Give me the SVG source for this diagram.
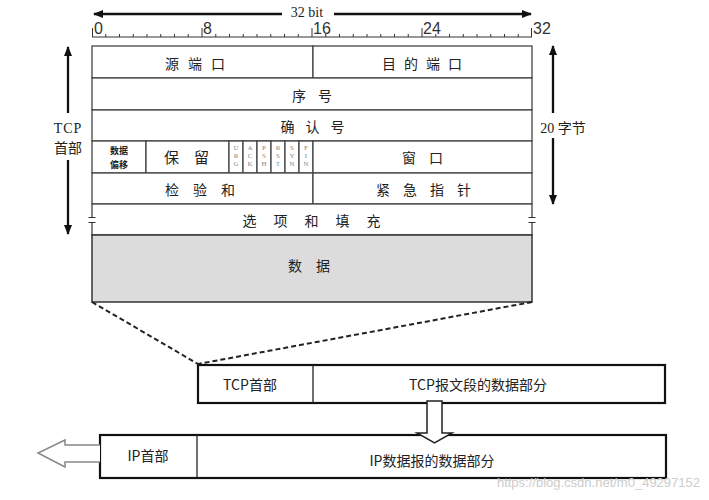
<svg xmlns="http://www.w3.org/2000/svg" width="709" height="500" viewBox="0 0 709 500">
<style>
.cjk{font-family:"Noto Sans CJK SC","Liberation Sans",sans-serif;font-size:14px;fill:#222;text-anchor:middle}
.sm{font-size:9px;font-weight:bold}
.sans{font-family:"Liberation Sans","Noto Sans CJK SC",sans-serif;fill:#333}
.serif{font-family:"Liberation Serif","Noto Sans CJK SC",serif;fill:#222}
.flag{font-family:"Liberation Serif",serif;font-size:7px;fill:#888;text-anchor:middle}
.cell{fill:#fff;stroke:#444;stroke-width:1.3}
.box{fill:#fff;stroke:#111;stroke-width:2.2}
.bt{font-family:"Noto Sans CJK SC","Liberation Sans",sans-serif;font-size:14px;fill:#222;text-anchor:middle}
.dim{stroke:#111;stroke-width:2.3;fill:none}
.tick{stroke:#333;stroke-width:1}
.dash{stroke:#222;stroke-width:2;stroke-dasharray:5,3;fill:none}
.hollow{fill:#fff;stroke:#222;stroke-width:1.5}
</style>
<defs>
<marker id="ah" viewBox="0 0 10 10" refX="9" refY="5" markerWidth="10" markerHeight="10" markerUnits="userSpaceOnUse" orient="auto">
<path d="M0,1 L10,5 L0,9 Z" fill="#111"/>
</marker>
</defs>

<g id="ruler">
<line x1="92" y1="37" x2="532" y2="37" class="tick"/>
<path class="tick" d="M105.75,37v-3M119.5,37v-3M133.25,37v-3M147,37v-3M160.75,37v-3M174.5,37v-3M188.25,37v-3M215.75,37v-3M229.5,37v-3M243.25,37v-3M257,37v-3M270.75,37v-3M284.5,37v-3M298.25,37v-3M325.75,37v-3M339.5,37v-3M353.25,37v-3M367,37v-3M380.75,37v-3M394.5,37v-3M408.25,37v-3M435.75,37v-3M449.5,37v-3M463.25,37v-3M477,37v-3M490.75,37v-3M504.5,37v-3M518.25,37v-3"/>
<path class="tick" d="M92.5,37v-9M202,37v-9M312,37v-9M422,37v-9M531.5,37v-9"/>
<text class="sans" x="94" y="34" font-size="16">0</text>
<text class="sans" x="203" y="34" font-size="16">8</text>
<text class="sans" x="313" y="34" font-size="16">16</text>
<text class="sans" x="423" y="34" font-size="16">24</text>
<text class="sans" x="533" y="34" font-size="16">32</text>
<text class="serif" x="307" y="17" font-size="14" text-anchor="middle">32 bit</text>
</g>

<g id="row-ports">
<rect class="cell" x="92" y="46" width="221" height="32"/>
<rect class="cell" x="313" y="46" width="219" height="32"/>
<text class="cjk" x="199.5" y="69" letter-spacing="9">源端口</text>
<text class="cjk" x="426" y="69" letter-spacing="8">目的端口</text>
</g>
<g id="row-seq">
<rect class="cell" x="92" y="78" width="440" height="32"/>
<text class="cjk" x="318" y="101" letter-spacing="12">序号</text>
</g>
<g id="row-ack">
<rect class="cell" x="92" y="110" width="440" height="31"/>
<text class="cjk" x="318" y="132" letter-spacing="11">确认号</text>
</g>
<g id="row-flags">
<rect class="cell" x="92" y="141" width="54" height="32"/>
<rect class="cell" x="146" y="141" width="83" height="32"/>
<rect class="cell" x="229" y="141" width="14" height="32"/>
<rect class="cell" x="243" y="141" width="14" height="32"/>
<rect class="cell" x="257" y="141" width="14" height="32"/>
<rect class="cell" x="271" y="141" width="14" height="32"/>
<rect class="cell" x="285" y="141" width="14" height="32"/>
<rect class="cell" x="299" y="141" width="14" height="32"/>
<rect class="cell" x="313" y="141" width="219" height="32"/>
<text class="cjk sm" x="119" y="154">数据</text>
<text class="cjk sm" x="119" y="168">偏移</text>
<text class="cjk" x="194" y="163" style="font-size:15px" letter-spacing="15">保留</text>
<text class="flag" x="236" y="150">U</text><text class="flag" x="236" y="158">R</text><text class="flag" x="236" y="166">G</text>
<text class="flag" x="250" y="150">A</text><text class="flag" x="250" y="158">C</text><text class="flag" x="250" y="166">K</text>
<text class="flag" x="264" y="150">P</text><text class="flag" x="264" y="158">S</text><text class="flag" x="264" y="166">H</text>
<text class="flag" x="278" y="150">R</text><text class="flag" x="278" y="158">S</text><text class="flag" x="278" y="166">T</text>
<text class="flag" x="292" y="150">S</text><text class="flag" x="292" y="158">Y</text><text class="flag" x="292" y="166">N</text>
<text class="flag" x="306" y="150">F</text><text class="flag" x="306" y="158">I</text><text class="flag" x="306" y="166">N</text>
<text class="cjk" x="429" y="163" letter-spacing="13">窗口</text>
</g>
<g id="row-checksum">
<rect class="cell" x="92" y="173" width="221" height="31"/>
<rect class="cell" x="313" y="173" width="219" height="31"/>
<text class="cjk" x="207" y="195" letter-spacing="14">检验和</text>
<text class="cjk" x="430" y="195" letter-spacing="13">紧急指针</text>
</g>
<g id="row-options">
<rect class="cell" x="92" y="204" width="440" height="31"/>
<text class="cjk" x="320" y="226" letter-spacing="17">选项和填充</text>
<rect x="89" y="217" width="6" height="6" fill="#fff"/>
<rect x="529" y="217" width="6" height="6" fill="#fff"/>
<path class="tick" d="M88.5,217.5h7M88.5,222.5h7M528.5,217.5h7M528.5,222.5h7" stroke-width="1.2"/>
</g>
<g id="data">
<rect x="92" y="235" width="440" height="67" fill="#dcdcdc" stroke="#333" stroke-width="1.5"/>
<text class="cjk" x="316" y="271" letter-spacing="14">数据</text>
</g>

<g id="tcp-label">
<text class="serif" x="68" y="133" font-size="14" text-anchor="middle" letter-spacing="1">TCP</text>
<text class="cjk" x="68" y="153">首部</text>
</g>
<g id="bytes-label">
<text class="serif" x="563" y="133" font-size="14" text-anchor="middle">20 字节</text>
</g>

<g id="tcp-segment">
<rect class="box" x="198" y="365" width="467" height="38"/>
<line x1="313" y1="365" x2="313" y2="403" stroke="#222" stroke-width="1.3"/>
<text class="bt" x="250" y="390">TCP首部</text>
<text class="bt" x="478" y="390">TCP报文段的数据部分</text>
</g>
<g id="ip-datagram">
<rect class="box" x="100" y="435" width="566" height="43"/>
<line x1="197" y1="435" x2="197" y2="478" stroke="#222" stroke-width="1.3"/>
<text class="bt" x="148" y="461">IP首部</text>
<text class="bt" x="432" y="466">IP数据报的数据部分</text>
</g>

<g id="connectors">
<line class="dim" x1="282" y1="14" x2="94" y2="14" marker-end="url(#ah)"/>
<line class="dim" x1="334" y1="14" x2="531" y2="14" marker-end="url(#ah)"/>
<line class="dim" x1="68" y1="113" x2="68" y2="47" marker-end="url(#ah)"/>
<line class="dim" x1="68" y1="160" x2="68" y2="234" marker-end="url(#ah)"/>
<line class="dim" x1="553" y1="113" x2="553" y2="46" marker-end="url(#ah)"/>
<line class="dim" x1="553" y1="138" x2="553" y2="204" marker-end="url(#ah)"/>
<line class="dash" x1="92" y1="302" x2="198" y2="364"/>
<line class="dash" x1="532" y1="302" x2="198" y2="364"/>
<path class="hollow" d="M427,401 L442,401 L442,433 L452,433 L434.5,443 L417,433 L427,433 Z"/>
<path d="M100,445 L65,445 L65,440 L38,453 L65,467 L65,462 L100,462" fill="#fff" stroke="#888" stroke-width="1.5"/>
</g>

<text x="700" y="487" font-family="'Liberation Sans',sans-serif" font-size="13" fill="#ccc" text-anchor="end">https://blog.csdn.net/m0_49297152</text>
</svg>
